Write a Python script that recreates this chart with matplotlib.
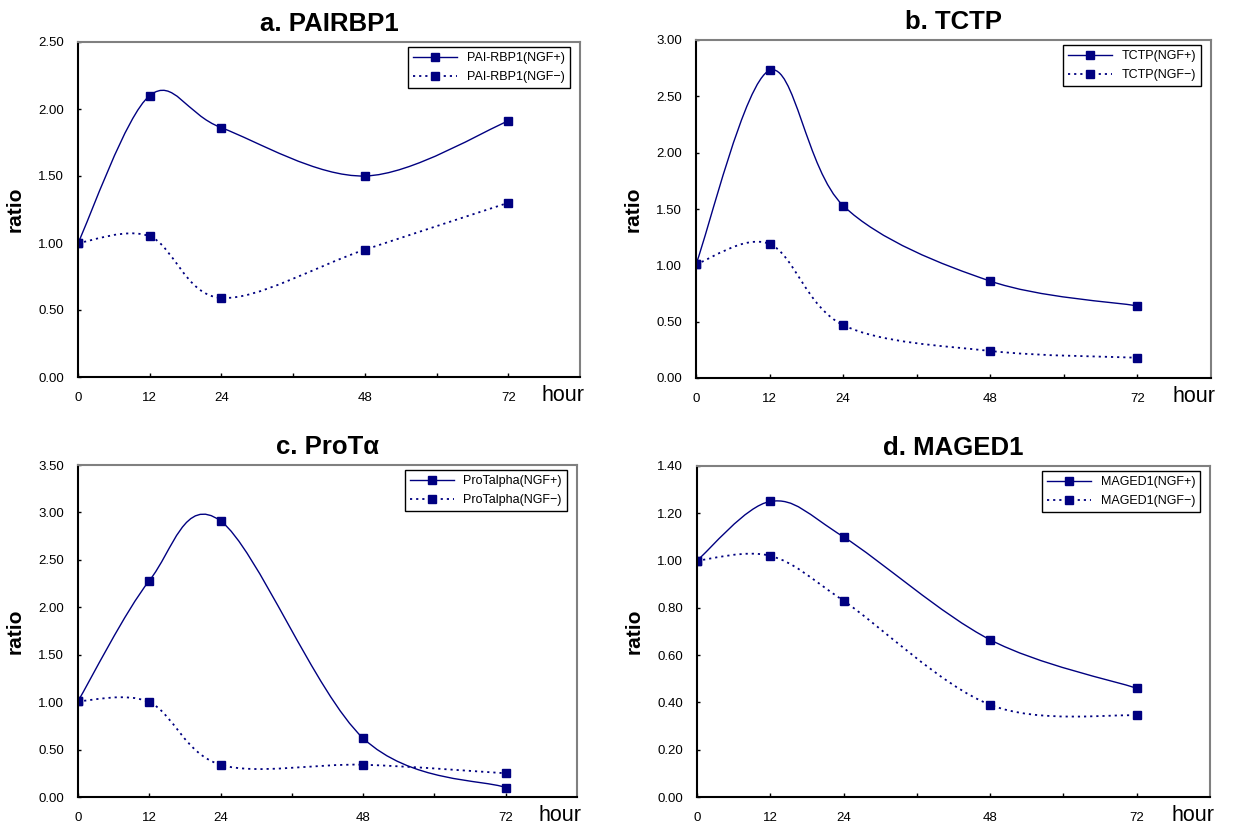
import numpy as np
import matplotlib.pyplot as plt
from matplotlib.path import Path
from matplotlib.patches import PathPatch
from matplotlib.lines import Line2D

plt.rcParams['font.family'] = ['Liberation Sans', 'DejaVu Sans']

# data
hours = [0, 12, 24, 48, 72]

pai_plus = [1.00, 2.10, 1.86, 1.50, 1.91]
pai_minus = [1.00, 1.05, 0.59, 0.95, 1.30]

tctp_plus = [1.01, 2.73, 1.53, 0.86, 0.64]
tctp_minus = [1.01, 1.19, 0.47, 0.24, 0.18]

prot_plus = [1.01, 2.28, 2.91, 0.62, 0.10]
prot_minus = [1.01, 1.00, 0.34, 0.34, 0.25]

maged_plus = [1.00, 1.25, 1.10, 0.665, 0.46]
maged_minus = [1.00, 1.02, 0.83, 0.39, 0.345]

titles = ['a. PAIRBP1', 'b. TCTP', 'c. ProT\u03b1', 'd. MAGED1']
labels = [('PAI-RBP1(NGF+)', 'PAI-RBP1(NGF\u2212)'),
          ('TCTP(NGF+)', 'TCTP(NGF\u2212)'),
          ('ProTalpha(NGF+)', 'ProTalpha(NGF\u2212)'),
          ('MAGED1(NGF+)', 'MAGED1(NGF\u2212)')]
series = [(pai_plus, pai_minus), (tctp_plus, tctp_minus),
          (prot_plus, prot_minus), (maged_plus, maged_minus)]
ymax = [2.5, 3.0, 3.5, 1.4]
ystep = [0.5, 0.5, 0.5, 0.2]

navy = '#000080'
dots = (0, (1.2, 2.2))

# axes rectangles in pixels (left, top, right, bottom)
W, H = 1233, 826
boxes = [(78, 42, 580, 377), (696, 40, 1211, 378),
         (78, 465, 577, 797), (697, 466, 1210, 797)]


def smooth_path(x, y):
    # excel-like smoothed line: catmull-rom converted to cubic bezier
    x = np.asarray(x, float)
    y = np.asarray(y, float)
    n = len(x)
    verts = [(x[0], y[0])]
    codes = [Path.MOVETO]
    for i in range(n - 1):
        i0 = max(i - 1, 0)
        i3 = min(i + 2, n - 1)
        c1 = (x[i] + (x[i + 1] - x[i0]) / 6, y[i] + (y[i + 1] - y[i0]) / 6)
        c2 = (x[i + 1] - (x[i3] - x[i]) / 6, y[i + 1] - (y[i3] - y[i]) / 6)
        verts += [c1, c2, (x[i + 1], y[i + 1])]
        codes += [Path.CURVE4] * 3
    return Path(verts, codes)


fig = plt.figure(figsize=(W / 100, H / 100), dpi=100)

for k in range(4):
    l, t, r, b = boxes[k]
    aw, ah = r - l, b - t
    ax = fig.add_axes([l / W, 1 - b / H, aw / W, ah / H])
    plus, minus = series[k]

    ax.add_patch(PathPatch(smooth_path(hours, plus), fill=False,
                           ec=navy, lw=1.0))
    ax.add_patch(PathPatch(smooth_path(hours, minus), fill=False,
                           ec=navy, lw=1.3, ls=dots))
    ax.plot(hours, plus, ls='none', marker='s', ms=5.5, color=navy)
    ax.plot(hours, minus, ls='none', marker='s', ms=5.5, color=navy)

    ax.set_xlim(0, 84)
    ax.set_ylim(0, ymax[k])
    ax.set_xticks(hours)
    ax.set_xticks([36, 60], minor=True)
    ax.set_yticks(np.arange(0, ymax[k] + 1e-9, ystep[k]))
    ax.yaxis.set_major_formatter(plt.FormatStrFormatter('%.2f'))
    ax.tick_params(axis='x', which='both', direction='in', length=3,
                   width=1, labelsize=9.5, pad=11)
    ax.tick_params(axis='y', direction='in', length=2, width=1,
                   labelsize=9.5, pad=10)

    for s in ['left', 'bottom']:
        ax.spines[s].set_linewidth(1.5)
        ax.spines[s].set_color('black')
    for s in ['top', 'right']:
        ax.spines[s].set_linewidth(1.5)
        ax.spines[s].set_color('#808080')

    ax.set_title(titles[k], fontsize=18.5, fontweight='bold', pad=8)
    ax.set_ylabel('ratio', fontsize=15, fontweight='bold', labelpad=10)
    ax.annotate('hour', xy=(1, 0), xycoords='axes fraction',
                xytext=(3, -17), textcoords='offset points',
                ha='right', va='baseline', fontsize=15.5)

    handles = [Line2D([], [], color=navy, lw=1.0, marker='s', ms=5.5),
               Line2D([], [], color=navy, lw=1.3, ls=dots,
                      marker='s', ms=5.5)]
    anchor = (1 - 10 / aw, 1 - 5 / ah)
    leg = ax.legend(handles, labels[k], loc='upper right',
                    bbox_to_anchor=anchor, borderaxespad=0, fontsize=9,
                    frameon=True, fancybox=False, framealpha=1,
                    edgecolor='black', handlelength=3.5,
                    labelspacing=0.55)
    leg.get_frame().set_linewidth(1.0)

fig.savefig('out.png', dpi=100)
